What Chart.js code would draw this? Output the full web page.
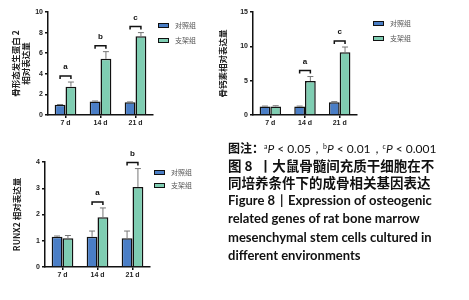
<!DOCTYPE html>
<html>
<head>
<meta charset="utf-8">
<script src="https://cdn.jsdelivr.net/npm/chart.js@4.4.0/dist/chart.umd.min.js"></script>
<style>
body { margin: 0; width: 469px; height: 300px; background: #fff; position: relative; overflow: hidden; font-family: "Liberation Sans", Arial, sans-serif; }
canvas { position: absolute; }
.lg { position: absolute; font-family: "Noto Sans CJK SC", sans-serif; font-size: 7px; color: #555; line-height: 1; }
.lg .it { position: absolute; left: 0; white-space: nowrap; display: flex; align-items: center; height: 8px; }
.lg .bx { display: inline-block; width: 9px; height: 3px; border: 1.5px solid #111; margin-right: 6px; }
.cap { position: absolute; left: 228px; white-space: nowrap; color: #111; }
.cn { font-family: "Noto Sans CJK SC", sans-serif; font-weight: bold; font-size: 13.5px; }
.en { font-family: Lato, sans-serif; font-weight: bold; font-size: 13px; }
.nt { font-family: Lato, sans-serif; font-size: 12px; }
.nt sup { font-size: 7px; vertical-align: 4px; }
</style>
</head>
<body>
<canvas id="c1" width="160" height="140" style="left:0;top:0"></canvas>
<canvas id="c2" width="155" height="140" style="left:215px;top:0"></canvas>
<canvas id="c3" width="160" height="160" style="left:0;top:140px"></canvas>

<div class="lg" id="lg1" style="left:158px;top:21px"></div>
<div class="lg" id="lg2" style="left:373px;top:19px"></div>
<div class="lg" id="lg3" style="left:154px;top:168px"></div>

<div class="cap nt" style="top:139px"><span class="cn" style="font-size:12px">图注：</span><sup>a</sup><i>P</i> &lt; 0.05，<sup>b</sup><i>P</i> &lt; 0.01，<sup>c</sup><i>P</i> &lt; 0.001</div>
<div class="cap cn" style="top:155px">图 8 &nbsp;丨大鼠骨髓间充质干细胞在不</div>
<div class="cap cn" style="top:172px">同培养条件下的成骨相关基因表达</div>
<div class="cap en" style="top:192px">Figure 8 &thinsp;| &thinsp;Expression of osteogenic</div>
<div class="cap en" style="top:210px">related genes of rat bone marrow</div>
<div class="cap en" style="top:229px">mesenchymal stem cells cultured in</div>
<div class="cap en" style="top:247px">different environments</div>

<script>
const days = ['7 d', '14 d', '21 d'];
const groups = ['对照组', '支架组'];
const colors = ['#4a7ec6', '#7fcdb2'];

// BMP2
const bmpCtrl = [1.0, 1.3, 1.25];
const bmpCtrlErr = [0.02, 0.06, 0.02];
const bmpScaf = [2.75, 5.45, 7.65];
const bmpScafErr = [0.45, 0.7, 0.35];
const bmpSig = ['a', 'b', 'c'];
const bmpTicks = [0, 2, 4, 6, 8, 10];

// osteocalcin
const ocnCtrl = [1.25, 1.25, 1.85];
const ocnCtrlErr = [0.05, 0.05, 0.1];
const ocnScaf = [1.25, 4.95, 9.15];
const ocnScafErr = [0.1, 0.65, 0.75];
const ocnSig = ['', 'a', 'c'];
const ocnTicks = [0, 5, 10, 15];

// RUNX2
const runxCtrl = [1.15, 1.15, 1.1];
const runxCtrlErr = [0.03, 0.22, 0.27];
const runxScaf = [1.1, 1.9, 3.05];
const runxScafErr = [0.1, 0.35, 0.7];
const runxSig = ['', 'a', 'b'];
const runxTicks = [0, 1, 2, 3, 4];

var tickFont = { family: 'Liberation Sans', size: 7, weight: 'bold' };

// error bars + significance brackets
const extras = {
    id: 'extras',
    afterDatasetsDraw(chart, args, opts) {
        const ctx = chart.ctx;
        const y = chart.scales.y;
        const tops = [];
        chart.data.datasets.forEach(function (ds, d) {
            chart.getDatasetMeta(d).data.forEach(function (bar, i) {
                const top = y.getPixelForValue(ds.data[i] + ds.errors[i]);
                ctx.save();
                ctx.strokeStyle = '#777';
                ctx.lineWidth = 1;
                ctx.beginPath();
                ctx.moveTo(bar.x, bar.y);
                ctx.lineTo(bar.x, top);
                ctx.moveTo(bar.x - 3, top);
                ctx.lineTo(bar.x + 3, top);
                ctx.stroke();
                ctx.restore();
                tops[i] = Math.min(tops[i] === undefined ? Infinity : tops[i], top);
            });
        });
        const m0 = chart.getDatasetMeta(0).data, m1 = chart.getDatasetMeta(1).data;
        opts.sig.forEach(function (lab, i) {
            if (!lab) return;
            const by = tops[i] - 6;
            ctx.save();
            ctx.strokeStyle = '#111';
            ctx.lineWidth = 1.5;
            ctx.beginPath();
            ctx.moveTo(m0[i].x, by + 3);
            ctx.lineTo(m0[i].x, by);
            ctx.lineTo(m1[i].x, by);
            ctx.lineTo(m1[i].x, by + 3);
            ctx.stroke();
            ctx.fillStyle = '#111';
            ctx.font = 'bold 8px "Liberation Sans"';
            ctx.textAlign = 'center';
            ctx.textBaseline = 'middle';
            ctx.fillText(lab, (m0[i].x + m1[i].x) / 2, by - 9);
            ctx.restore();
        });
    }
};

function makeChart(id, ctrl, ctrlErr, scaf, scafErr, sig, ticks, title, t) {
    const datasets = [
        { label: groups[0], data: ctrl, errors: ctrlErr, backgroundColor: colors[0] },
        { label: groups[1], data: scaf, errors: scafErr, backgroundColor: colors[1] }
    ];
    datasets.forEach(function (ds) {
        ds.borderColor = '#111';
        ds.borderWidth = 1.5;
        ds.categoryPercentage = 0.62;
        ds.barPercentage = 1;
    });
    return new Chart(document.getElementById(id), {
        type: 'bar',
        data: { labels: days, datasets: datasets },
        plugins: [extras],
        options: {
            responsive: false,
            animation: false,
            devicePixelRatio: 1,
            layout: { padding: t.pad },
            plugins: {
                legend: { display: false },
                tooltip: { enabled: false },
                extras: { sig: sig }
            },
            scales: {
                x: {
                    grid: { drawOnChartArea: false, offset: false, tickLength: 3, color: '#111', lineWidth: 1.5 },
                    border: { color: '#111', width: 1.5 },
                    ticks: { font: tickFont, color: '#222', padding: 1 },
                    afterFit: function (s) { s.height = t.xh; }
                },
                y: {
                    min: ticks[0],
                    max: ticks[ticks.length - 1],
                    afterBuildTicks: function (s) { s.ticks = ticks.map(v => ({ value: v })); },
                    grid: { drawOnChartArea: false, tickLength: 3, color: '#111', lineWidth: 1.5 },
                    border: { color: '#111', width: 1.5 },
                    ticks: { font: tickFont, color: '#222', padding: 2 },
                    title: {
                        display: true,
                        text: title,
                        color: '#222',
                        font: { family: 'Noto Sans CJK SC', size: t.ts, weight: 'bold', lineHeight: 1.25 },
                        padding: { top: t.tp, bottom: 0 }
                    },
                    afterFit: function (s) { s.width = t.yw; }
                }
            }
        }
    });
}

function makeLegend(id, gap) {
    var el = document.getElementById(id);
    groups.forEach(function (g, i) {
        var it = document.createElement('div');
        it.className = 'it';
        it.style.top = (i * gap) + 'px';
        it.innerHTML = '<span class="bx" style="background:' + colors[i] + '"></span>' + g;
        el.appendChild(it);
    });
}

makeChart('c1', bmpCtrl, bmpCtrlErr, bmpScaf, bmpScafErr, bmpSig, bmpTicks,
    ['骨形态发生蛋白 2', '相对表达量'],
    { pad: { left: 0, top: 12, right: 7, bottom: 0 }, yw: 48, xh: 25, ts: 8.5, tp: 10 });
makeChart('c2', ocnCtrl, ocnCtrlErr, ocnScaf, ocnScafErr, ocnSig, ocnTicks,
    '骨钙素相对表达量',
    { pad: { left: 0, top: 12, right: 13, bottom: 0 }, yw: 38, xh: 25, ts: 8.5, tp: 2 });
makeChart('c3', runxCtrl, runxCtrlErr, runxScaf, runxScafErr, runxSig, runxTicks,
    'RUNX2 相对表达量',
    { pad: { left: 0, top: 22, right: 10, bottom: 0 }, yw: 45, xh: 33, ts: 8.5, tp: 11 });

makeLegend('lg1', 15);
makeLegend('lg2', 15);
makeLegend('lg3', 13);
</script>
</body>
</html>
